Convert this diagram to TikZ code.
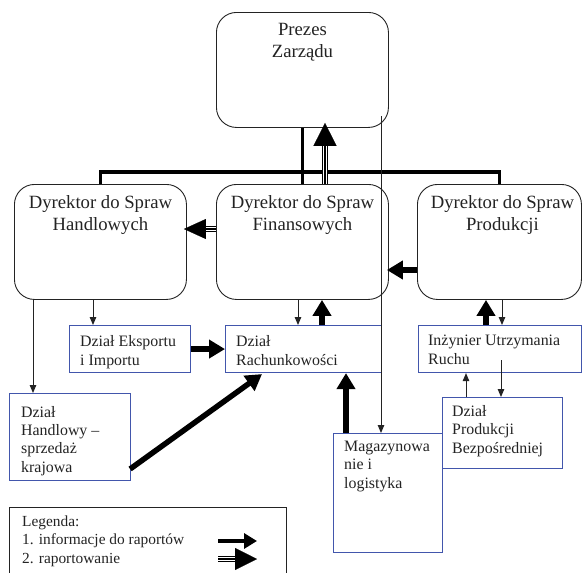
\documentclass[tikz,border=0pt]{standalone}
\usepackage{fontspec}
\setmainfont{Liberation Serif}
\usetikzlibrary{arrows.meta,calc}
\definecolor{boxblue}{RGB}{66,86,172}
\definecolor{ink}{RGB}{35,35,35}
\begin{document}
\begin{tikzpicture}[x=1pt,y=-1pt,
  mgr/.style={draw=ink, line width=0.9pt, rounded corners=20pt, minimum width=172pt,
    minimum height=115pt, anchor=north west, inner sep=0pt},
  unit/.style={draw=boxblue, line width=1.1pt, anchor=north west, inner sep=0pt},
  bigtxt/.style={font=\fontsize{18.7}{22}\selectfont, align=center, anchor=base,
    inner sep=0pt, text=ink},
  smalltxt/.style={font=\fontsize{15.9}{18.2}\selectfont, align=left, anchor=base west,
    inner sep=0pt, text=ink},
  legtxt/.style={font=\fontsize{15.4}{18.3}\selectfont, align=left, anchor=base west,
    inner sep=0pt, text=ink},
  info/.style={draw=ink, line width=1pt, -{Triangle[length=8pt,width=6.5pt]}},
  feed/.style={draw=black, line width=5.5pt, -{Triangle[length=16pt,width=18pt]}},
  bar/.style={draw=black, line width=3.5pt},
  triple/.style={draw=black, line width=1.1pt,
    preaction={draw=white, line width=4.2pt, preaction={draw=black, line width=6.6pt}}},
  bighead/.style={draw=black, line width=0.1pt, -{Triangle[length=23pt,width=23pt]}}
]
\useasboundingbox (0,0) rectangle (582,573);
\clip (0,0) rectangle (582,573);

% management boxes
\node[mgr] (pz) at (216,12) {};
\node[mgr] (dh) at (14,184) {};
\node[mgr] (df) at (216,184) {};
\node[mgr, minimum width=164pt] (dp) at (417,184) {};

% multi-line labels sit on the baseline of their last line
\node[bigtxt] (pzt) at ($(pz.north)+(0,45)$) {Prezes\\Zarządu};
\node[bigtxt] (dht) at ($(dh.north)+(0,46)$) {Dyrektor do Spraw\\Handlowych};
\node[bigtxt] (dft) at ($(df.north)+(0,46)$) {Dyrektor do Spraw\\Finansowych};
\node[bigtxt] (dpt) at ($(dp.north)+(3,46)$) {Dyrektor do Spraw\\Produkcji};

% departments
\node[unit, minimum width=121pt, minimum height=47pt] (ex) at (69,325) {};
\node[unit, minimum width=156pt, minimum height=47pt] (rk) at (225,325) {};
\node[unit, minimum width=163pt, minimum height=47pt] (iz) at (418,325) {};
\node[unit, minimum width=120pt, minimum height=71pt] (pb) at (442,397) {};
\node[unit, minimum width=109pt, minimum height=119pt] (mg) at (333,433) {};
\node[unit, minimum width=121pt, minimum height=87pt] (dk) at (9,393) {};

\node[smalltxt] (ext) at ($(ex.north west)+(11,40)$) {Dział Eksportu\\i Importu};
\node[smalltxt] (rkt) at ($(rk.north west)+(11,40)$) {Dział\\Rachunkowości};
\node[smalltxt] (izt) at ($(iz.north west)+(10,39)$) {Inżynier Utrzymania\\Ruchu};
\node[smalltxt] (pbt) at ($(pb.north west)+(10,56)$) {Dział\\Produkcji\\Bezpośredniej};
\node[smalltxt] (mgt) at ($(mg.north west)+(11,55)$) {Magazynowa\\nie i\\logistyka};
\node[smalltxt] (dkt) at ($(dk.north west)+(12,79)$) {Dział\\Handlowy –\\sprzedaż\\krajowa};

% reporting lines from the board
\draw[bar] (dh.north) -- ++(0,-12) -| (dp.north);
\draw[bar] (pz.south) -- (df.north);

% reporting (triple shaft)
\coordinate (up1) at ($(pz.south west)+(109,-5)$);
\draw[triple] ($(df.north west)+(109,0)$) -- ($(up1)+(0,23)$);
\draw[bighead] ($(up1)+(0,23)$) -- (up1);

\coordinate (lf1) at ($(dh.north east)+(-3,45)$);
\draw[triple] ($(df.north west)+(0,45)$) -- ($(lf1)+(22,0)$);
\draw[bighead, -{Triangle[length=22pt,width=20pt]}] ($(lf1)+(22,0)$) -- (lf1);

% information flows
\draw[info] ($(dh.south west)+(79,0)$) -- ($(ex.north west)+(24,0)$);
\draw[info] ($(dh.south west)+(19,0)$) -- ($(dk.north west)+(24,0)$);
\draw[info] ($(df.south west)+(82,0)$) -- ($(rk.north west)+(73,0)$);
\draw[info] ($(dp.south west)+(85,0)$) -- ($(iz.north west)+(84,0)$);
\draw[info] ($(pb.north west)+(24,0)$) -- ($(iz.south west)+(48,0)$);
\draw[info] ($(iz.north west)+(83,35)$) -- ($(pb.north west)+(59,0)$);
\draw[info] ($(pz.north west)+(165,104)$) -- ($(mg.north west)+(48,0)$);

% data for reports
\draw[feed] ($(dp.north west)+(0,86)$) -- ($(df.north east)+(-2,86)$);
\draw[feed] ($(rk.north west)+(97,0)$) -- ($(df.south west)+(106,0)$);
\draw[feed] ($(iz.north west)+(68,0)$) -- ($(dp.south west)+(69,0)$);
\draw[feed] (ex.east) -- (rk.west);
\draw[feed] ($(mg.north west)+(13,0)$) -- ($(rk.south west)+(121,0)$);
\draw[feed] ($(dk.north east)+(-1,76)$) -- ($(rk.south west)+(37,1)$);

% legend
\node[draw=ink, line width=0.9pt, anchor=north west, minimum width=277pt,
  minimum height=90pt, inner sep=0pt] (lg) at (9,507) {};
\node[legtxt] (lgt) at ($(lg.north west)+(13,56)$) {Legenda:\\1. informacje do raportów\\2. raportowanie};
\coordinate (l1a) at ($(lg.north west)+(209,34)$);
\coordinate (l1b) at ($(lg.north west)+(248,34)$);
\draw[feed, line width=4.5pt, -{Triangle[length=13pt,width=15pt]}] (l1a) -- (l1b);
\coordinate (l2a) at ($(lg.north west)+(209,52)$);
\coordinate (l2b) at ($(lg.north west)+(226,52)$);
\coordinate (l2c) at ($(lg.north west)+(248,52)$);
\draw[triple] (l2a) -- (l2b);
\draw[bighead, -{Triangle[length=22pt,width=22pt]}] (l2b) -- (l2c);
\end{tikzpicture}
\end{document}
